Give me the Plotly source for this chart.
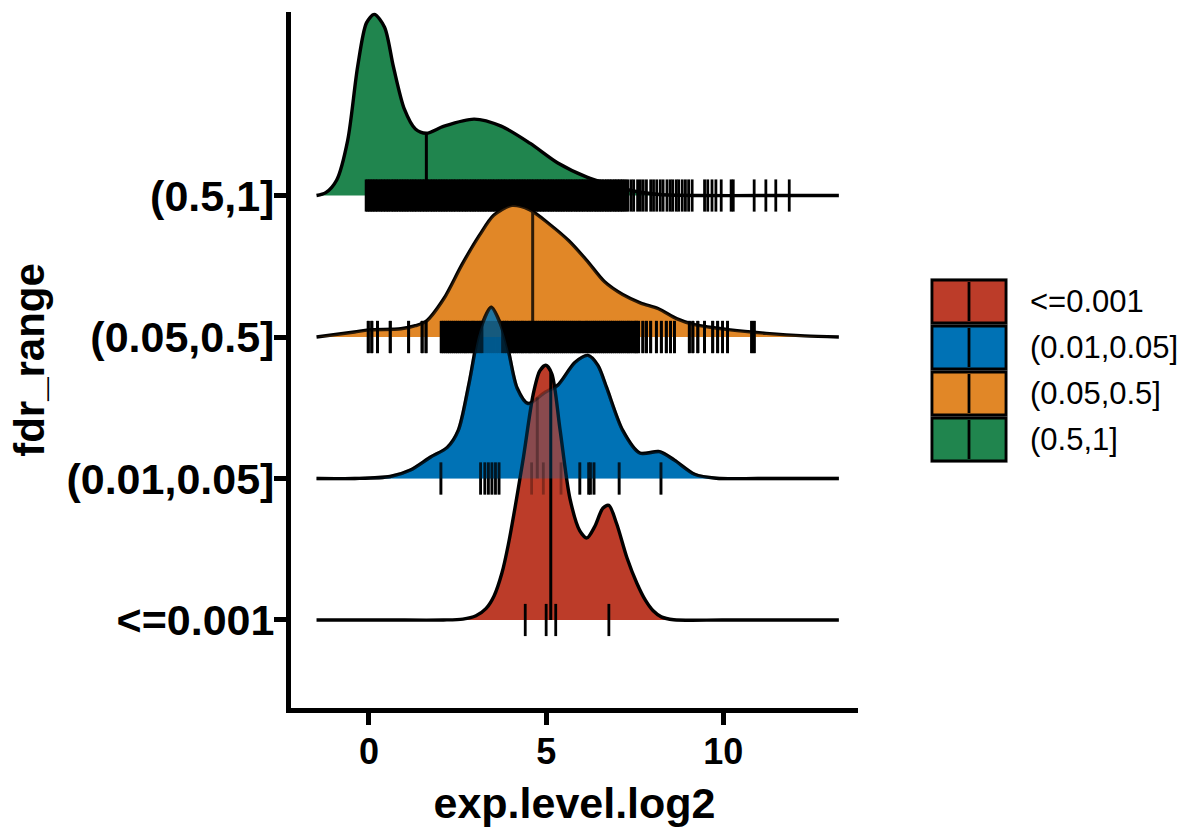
import numpy as np
import plotly.graph_objects as go

# ---------------- data ----------------
categories = ["<=0.001", "(0.01,0.05]", "(0.05,0.5]", "(0.5,1]"]
colors = ["#BC3C29", "#0072B5", "#E18727", "#20854E"]

# density ridges: x grid (exp.level.log2) and scaled density height
red_x = [-1.48, 0.50, 2.10, 2.65, 3.02, 3.30, 3.53, 3.75, 3.93, 4.34, 4.63, 4.82, 4.99, 5.16,
         5.39, 5.67, 5.95, 6.15, 6.37, 6.60, 6.77, 6.99, 7.28, 7.56, 7.80, 8.02, 8.25, 8.60,
         10.00, 13.26]
red_h = [0, 0, 0, 0.006, 0.03, 0.08, 0.17, 0.33, 0.53, 1.12, 1.59, 1.76, 1.80, 1.74,
         1.35, 0.86, 0.63, 0.58, 0.66, 0.79, 0.81, 0.68, 0.44, 0.26, 0.14, 0.065, 0.022, 0.002,
         0, 0]

blue_x = [-1.48, -0.40, 0.60, 1.17, 1.73, 2.21, 2.52, 2.83, 3.11, 3.45, 3.70, 3.92, 4.18, 4.49,
          4.97, 5.33, 5.81, 6.18, 6.46, 6.71, 7.16, 7.64, 8.20, 8.62, 9.19, 9.80, 11.00, 13.26]
blue_h = [0, 0, 0.014, 0.06, 0.15, 0.22, 0.34, 0.68, 1.03, 1.21, 1.10, 0.92, 0.64, 0.53,
          0.61, 0.66, 0.82, 0.87, 0.80, 0.64, 0.34, 0.18, 0.19, 0.13, 0.03, 0.002, 0, 0]

orange_x = [-1.48, -0.41, -0.01, 0.90, 1.31, 1.61, 2.11, 2.62, 3.12, 3.52, 4.03, 4.53, 5.13,
            5.64, 6.15, 6.65, 7.16, 7.67, 8.17, 8.68, 9.19, 10.20, 11.21, 12.30, 13.26]
orange_h = [0, 0.035, 0.05, 0.058, 0.08, 0.11, 0.27, 0.51, 0.72, 0.86, 0.93, 0.90, 0.79,
            0.68, 0.54, 0.39, 0.30, 0.24, 0.20, 0.13, 0.087, 0.05, 0.026, 0.008, 0]

green_x = [-1.48, -1.22, -0.91, -0.60, -0.32, -0.07, 0.15, 0.44, 0.69, 1.00, 1.31, 1.62, 2.12,
           2.97, 3.73, 4.54, 5.33, 6.15, 6.77, 7.50, 8.20, 9.30, 11.00, 13.26]
green_h = [0, 0.02, 0.11, 0.39, 0.91, 1.22, 1.28, 1.19, 0.91, 0.61, 0.47, 0.44, 0.49,
           0.54, 0.49, 0.37, 0.23, 0.13, 0.08, 0.03, 0.007, 0, 0, 0]

# rug (individual observations)
red_rug = [4.41, 5.00, 5.27, 6.77]
blue_rug = [2.03, 3.15, 3.27, 3.37, 3.47, 3.57, 3.67, 4.59, 4.92, 5.42, 5.95, 6.20, 6.25,
            6.35, 7.06, 8.24]
orange_rug = [-0.02, 0.08, 0.24, 0.60, 1.12, 1.50, 1.61,
              2.04, 2.10, 2.16, 2.22, 2.27, 2.33, 2.39, 2.45, 2.50, 2.56, 2.62, 2.68, 2.73,
              2.79, 2.85, 2.91, 2.96, 3.02, 3.08, 3.14, 3.19, 3.25, 3.31, 3.37, 3.42, 3.48,
              3.54, 3.60, 3.65, 3.71, 3.77, 3.83, 3.88, 3.94, 4.00, 4.06, 4.11, 4.17, 4.23,
              4.29, 4.34, 4.40, 4.46, 4.52, 4.57, 4.63, 4.69, 4.75, 4.80, 4.86, 4.92, 4.98,
              5.03, 5.09, 5.15, 5.21, 5.26, 5.32, 5.38, 5.44, 5.49, 5.55, 5.61, 5.67, 5.72,
              5.78, 5.84, 5.90, 5.95, 6.01, 6.07, 6.13, 6.18, 6.24, 6.30, 6.36, 6.41, 6.47,
              6.53, 6.59, 6.64, 6.70, 6.76, 6.82, 6.87, 6.93, 6.99, 7.05, 7.10, 7.16, 7.22,
              7.28, 7.33, 7.39, 7.45, 7.51, 7.55, 7.61,
              7.73, 7.83, 7.95, 8.11, 8.25, 8.39, 8.51, 8.62, 9.04, 9.14, 9.28, 9.47, 9.70,
              9.84, 9.98, 10.12, 10.80, 10.87]
green_rug = [-0.08, -0.04, 0.01, 0.05, 0.10, 0.14, 0.19, 0.23, 0.28, 0.33, 0.37, 0.42, 0.46,
             0.51, 0.55, 0.60, 0.65, 0.69, 0.74, 0.78, 0.83, 0.88, 0.92, 0.97, 1.01, 1.06,
             1.10, 1.15, 1.20, 1.24, 1.29, 1.33, 1.38, 1.43, 1.47, 1.52, 1.56, 1.61, 1.65,
             1.70, 1.75, 1.79, 1.84, 1.88, 1.93, 1.98, 2.02, 2.07, 2.11, 2.16, 2.20, 2.25,
             2.30, 2.34, 2.39, 2.43, 2.48, 2.53, 2.57, 2.62, 2.66, 2.71, 2.75, 2.80, 2.85,
             2.89, 2.94, 2.98, 3.03, 3.08, 3.12, 3.17, 3.21, 3.26, 3.30, 3.35, 3.40, 3.44,
             3.49, 3.53, 3.58, 3.63, 3.67, 3.72, 3.76, 3.81, 3.85, 3.90, 3.95, 3.99, 4.04,
             4.08, 4.13, 4.18, 4.22, 4.27, 4.31, 4.36, 4.40, 4.45, 4.50, 4.54, 4.59, 4.63,
             4.68, 4.73, 4.77, 4.82, 4.86, 4.91, 4.95, 5.00, 5.05, 5.09, 5.14, 5.18, 5.23,
             5.28, 5.32, 5.37, 5.41, 5.46, 5.50, 5.55, 5.60, 5.64, 5.69, 5.73, 5.78, 5.83,
             5.87, 5.92, 5.96, 6.01, 6.05, 6.10, 6.15, 6.19, 6.24, 6.28, 6.33, 6.38, 6.42,
             6.47, 6.51, 6.56, 6.60, 6.65, 6.70, 6.74, 6.79, 6.83, 6.88, 6.93, 6.97, 7.02,
             7.06, 7.11, 7.15, 7.20, 7.25,
             7.31, 7.40, 7.47, 7.58, 7.66, 7.74, 7.83, 7.95, 8.03, 8.12, 8.22, 8.30, 8.41,
             8.50, 8.57, 8.67, 8.74, 8.84, 8.93, 9.02, 9.12, 9.47, 9.56,
             9.68, 9.79, 9.94, 10.22, 10.28, 10.87, 11.20, 11.48, 11.86]

medians = [5.13, 4.75, 4.62, 1.62]

x_ticks = [0, 5, 10]

# ---------------- figure ----------------
curves = [(red_x, red_h), (blue_x, blue_h), (orange_x, orange_h), (green_x, green_h)]
rugs = [red_rug, blue_rug, orange_rug, green_rug]

FONT = "Liberation Sans, Arial, Helvetica, sans-serif"
OUT_W = 3.4
RUG_W = 2.8
MED_W = 3.0
RUG_SIZE = 23
SMOOTH = 0.8


def hex_rgba(h, a):
    h = h.lstrip("#")
    return "rgba(%d,%d,%d,%.3f)" % (int(h[0:2], 16), int(h[2:4], 16), int(h[4:6], 16), a)


fig = go.Figure()


def add_rug(xs_rug, base, opacity=1.0):
    fig.add_trace(go.Scatter(
        x=xs_rug, y=[base] * len(xs_rug), mode="markers",
        marker=dict(symbol="line-ns", size=RUG_SIZE, color="black",
                    line=dict(color="black", width=RUG_W)),
        opacity=opacity, hoverinfo="skip", showlegend=False))


def add_layer(k, fill_alpha=1.0, line_opacity=1.0, draw_fill=True, draw_lines=True, draw_rug=True):
    xs, hs = curves[k]
    base = k + 1
    ys = [base + h for h in hs]
    if draw_fill:
        fig.add_trace(go.Scatter(
            x=xs, y=ys, mode="lines", fill="toself",
            fillcolor=hex_rgba(colors[k], fill_alpha),
            line=dict(color="black" if draw_lines else "rgba(0,0,0,0)",
                      width=OUT_W if draw_lines else 0, shape="spline", smoothing=SMOOTH),
            hoverinfo="skip", showlegend=False))
    elif draw_lines:
        fig.add_trace(go.Scatter(
            x=xs, y=ys, mode="lines",
            line=dict(color="black", width=OUT_W, shape="spline", smoothing=SMOOTH),
            opacity=line_opacity, hoverinfo="skip", showlegend=False))
    if draw_lines:
        m = medians[k]
        top = base + float(np.interp(m, xs, hs))
        fig.add_trace(go.Scatter(
            x=[m, m], y=[base, top], mode="lines",
            line=dict(color="black", width=MED_W),
            opacity=line_opacity, hoverinfo="skip", showlegend=False))
    if draw_rug:
        add_rug(rugs[k], base, line_opacity)


# opaque ridges, top row first
for k in [3, 2, 1, 0]:
    add_layer(k)

# translucent echoes of the upper ridges where lower ridges cover them
add_layer(2, fill_alpha=0.2, draw_lines=False, draw_rug=False)
add_layer(2, line_opacity=0.3, draw_fill=False, draw_lines=False, draw_rug=True)
# keep the orange rug pure black away from the blue peak that crosses it
blue_peak_lo, blue_peak_hi = 3.2, 3.75
add_rug([v for v in orange_rug if v < blue_peak_lo or v > blue_peak_hi], 3)
add_layer(1, fill_alpha=0.27, draw_lines=False, draw_rug=False)
add_layer(1, line_opacity=0.3, draw_fill=False, draw_lines=True, draw_rug=True)

# ---------------- legend (drawn manually) ----------------
L, B, PW, PH = 291, 708, 567, 696


def px2x(px):
    return (px - L) / PW


def py2y(py):
    return (B - py) / PH


shapes = []
annotations = []
key_left, key_right, key_h, key_step, key_top0 = 932, 1006, 43, 46, 280
shapes.append(dict(type="rect", xref="paper", yref="paper",
                   x0=px2x(key_left - 2), x1=px2x(key_right + 2),
                   y0=py2y(key_top0 + 3 * key_step + key_h + 2), y1=py2y(key_top0 - 2),
                   fillcolor="#D9D9D9", line=dict(width=0), layer="above"))
for i, cat in enumerate(categories):
    top = key_top0 + i * key_step
    bot = top + key_h
    shapes.append(dict(type="rect", xref="paper", yref="paper",
                       x0=px2x(key_left), x1=px2x(key_right), y0=py2y(bot), y1=py2y(top),
                       fillcolor=colors[i], line=dict(color="black", width=2.8), layer="above"))
    cx = (key_left + key_right) / 2
    shapes.append(dict(type="line", xref="paper", yref="paper",
                       x0=px2x(cx), x1=px2x(cx), y0=py2y(bot - 2), y1=py2y(top + 2),
                       line=dict(color="black", width=2.8), layer="above"))
    annotations.append(dict(x=px2x(1028), y=py2y((top + bot) / 2), xref="paper", yref="paper",
                            text=cat, showarrow=False, xanchor="left", yanchor="middle",
                            font=dict(family=FONT, size=31, color="black")))

fig.update_layout(
    width=1202, height=840,
    margin=dict(l=L, r=1202 - L - PW, t=B - PH, b=840 - B, pad=0),
    paper_bgcolor="white", plot_bgcolor="white",
    showlegend=False,
    shapes=shapes, annotations=annotations,
    font=dict(family=FONT, color="black"),
)
fig.update_xaxes(
    range=[-2.2, 13.8], tickvals=x_ticks, ticktext=[str(t) for t in x_ticks],
    showgrid=False, zeroline=False,
    showline=True, linecolor="black", linewidth=5,
    ticks="outside", ticklen=12, tickwidth=4.5, tickcolor="black",
    ticklabelstandoff=-4,
    tickfont=dict(family=FONT, size=36, color="black", weight="bold"),
    title=dict(text="exp.level.log2", standoff=18,
               font=dict(family=FONT, size=43, color="black", weight="bold")),
)
fig.update_yaxes(
    range=[0.378, 5.297], tickvals=[1, 2, 3, 4], ticktext=categories,
    showgrid=False, zeroline=False,
    showline=True, linecolor="black", linewidth=5,
    ticks="outside", ticklen=12, tickwidth=4.5, tickcolor="black",
    ticklabelstandoff=-9,
    tickfont=dict(family=FONT, size=43, color="black", weight="bold"),
    title=dict(text="fdr_range", standoff=10,
               font=dict(family=FONT, size=42, color="black", weight="bold")),
)

fig.write_html("out.html")
